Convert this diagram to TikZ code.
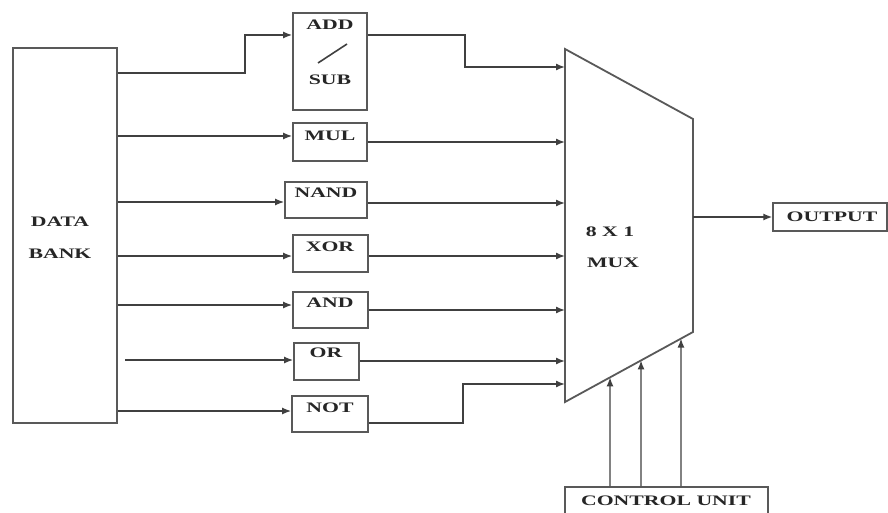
\documentclass[tikz,border=0pt]{standalone}
\usepackage{fontspec}
\usepackage{graphicx}
\setmainfont{Liberation Serif}
\usetikzlibrary{arrows.meta,calc}
\newcommand\sx[1]{\scalebox{1.5}[1]{#1}}
\begin{document}
\begin{tikzpicture}[x=1pt,y=-1pt,
 box/.style={draw=black!65,line width=1.8pt,inner sep=0pt},
 lbl/.style={font=\fontsize{14.5}{16}\selectfont\bfseries,inner sep=0pt,text=black!85},
 arr/.style={draw=black!75,line width=1.4pt,-{Latex[length=9pt,width=7pt]}},
 wire/.style={draw=black!75,line width=1.4pt}]
\useasboundingbox (0,0) rectangle (888,513);
\clip (0,0) rectangle (888,513);
\fill[white] (0,0) rectangle (888,513);
% boxes
\node[box,minimum width=104pt,minimum height=375pt] (bank) at (65,235.5) {};
\node[box,minimum width=74pt,minimum height=97pt] (add) at (330,61.5) {};
\node[box,minimum width=74pt,minimum height=38pt] (mul) at (330,142) {};
\node[box,minimum width=82pt,minimum height=36pt] (nand) at (326,200) {};
\node[box,minimum width=75pt,minimum height=37pt] (xor) at (330.5,253.5) {};
\node[box,minimum width=75pt,minimum height=36pt] (and) at (330.5,310) {};
\node[box,minimum width=65pt,minimum height=37pt] (or) at (326.5,361.5) {};
\node[box,minimum width=76pt,minimum height=36pt] (not) at (330,414) {};
\node[box,line width=1.4pt,minimum width=114pt,minimum height=28pt] (out) at (830,217) {};
\node[box,minimum width=203pt,minimum height=43pt] (ctrl) at (666.5,508.5) {};
% mux
\coordinate (mTL) at (565,49);
\coordinate (mTR) at (693,119);
\coordinate (mBR) at (693,332);
\coordinate (mBL) at (565,402);
\draw[box] (mTL) -- (mTR) -- (mBR) -- (mBL) -- cycle;
% labels
\node[lbl] (tdata) at (60,222) {\sx{DATA}};
\node[lbl] (tbank) at (60,254) {\sx{BANK}};
\node[lbl] (tadd) at (330,25) {\sx{ADD}};
\node[lbl] (tsub) at (330,80) {\sx{SUB}};
\draw[wire,line width=1.6pt] (318,63) -- (347,44);
\node[lbl] (tmul) at (330,136) {\sx{MUL}};
\node[lbl] (tnand) at (326,193) {\sx{NAND}};
\node[lbl] (txor) at (330,247) {\sx{XOR}};
\node[lbl] (tand) at (330,303) {\sx{AND}};
\node[lbl] (tor) at (326,353) {\sx{OR}};
\node[lbl] (tnot) at (330,408) {\sx{NOT}};
\node[lbl] (tout) at (832,217) {\sx{OUTPUT}};
\node[lbl] (tctrl) at (666,501) {\sx{CONTROL UNIT}};
\node[lbl] (t81) at (610,232) {\sx{8 X 1}};
\node[lbl] (tmux) at (613,263) {\sx{MUX}};
% data bank to units
\draw[arr] (bank.east |- 0,73) -- (245,73) -- (245,35) -- (add.west |- 0,35);
\draw[arr] (bank.east |- 0,136) -- (mul.west |- 0,136);
\draw[arr] (bank.east |- 0,202) -- (nand.west |- 0,202);
\draw[arr] (bank.east |- 0,256) -- (xor.west |- 0,256);
\draw[arr] (bank.east |- 0,305) -- (and.west |- 0,305);
\draw[arr] (125,360) -- (or.west |- 0,360);
\draw[arr] (bank.east |- 0,411) -- (not.west |- 0,411);
% units to mux
\draw[arr] (add.east |- 0,35) -- (465,35) -- (465,67) -- (mTL |- 0,67);
\draw[arr] (mul.east |- 0,142) -- (mTL |- 0,142);
\draw[arr] (nand.east |- 0,203) -- (mTL |- 0,203);
\draw[arr] (xor.east |- 0,256) -- (mTL |- 0,256);
\draw[arr] (and.east |- 0,310) -- (mTL |- 0,310);
\draw[arr] (or.east |- 0,361) -- (mTL |- 0,361);
\draw[arr] (not.east |- 0,423) -- (463,423) -- (463,384) -- (mTL |- 0,384);
% mux to output
\draw[arr] (mTR |- out.west) -- (out.west);
% control unit to mux
\draw[arr] (ctrl.north -| 610,0) -- ($(mBL)!0.3516!(mBR)$);
\draw[arr] (ctrl.north -| 641,0) -- ($(mBL)!0.594!(mBR)$);
\draw[arr] (ctrl.north -| 681,0) -- ($(mBL)!0.906!(mBR)$);
\end{tikzpicture}
\end{document}
